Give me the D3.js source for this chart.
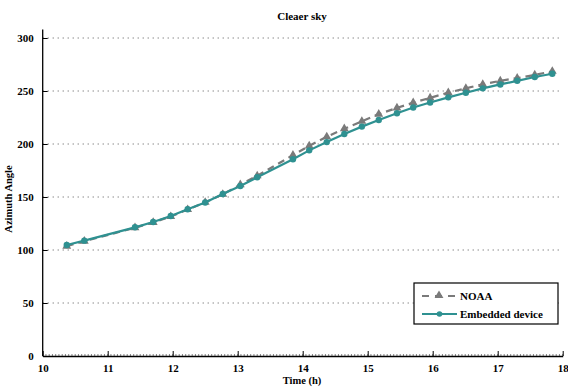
<!DOCTYPE html>
<html>
<head>
<meta charset="utf-8">
<script src="https://cdn.jsdelivr.net/npm/d3@7"></script>
<style>
  body { margin: 0; background: #fff; }
  svg { display: block; font-family: "Liberation Serif", "Times New Roman", serif; }
</style>
</head>
<body>
<svg id="chart" width="568" height="388"></svg>
<script>
// Sampling times (hours) of the solar azimuth measurements
const times = [10.37, 10.64, 11.42, 11.70, 11.97, 12.23, 12.50, 12.77, 13.04, 13.30,
               13.85, 14.10, 14.37, 14.64, 14.91, 15.17, 15.45, 15.70, 15.96, 16.24,
               16.51, 16.77, 17.04, 17.30, 17.57, 17.84];
// Reference azimuth from the NOAA calculator (degrees)
const noaa = [103.6, 108.3, 121.0, 126.0, 131.6, 138.2, 145.0, 152.6, 161.6, 170.0,
              189.4, 198.2, 206.8, 214.4, 221.4, 228.2, 234.0, 239.0, 243.5, 248.5,
              252.5, 256.3, 259.6, 262.2, 265.2, 268.6];
// Azimuth computed by the embedded device (degrees)
const device = [104.7, 108.8, 121.4, 126.4, 132.1, 138.4, 144.8, 152.8, 160.4, 168.6,
                185.6, 194.0, 201.8, 209.4, 216.4, 222.6, 229.0, 234.4, 239.2, 244.0,
                248.4, 252.5, 256.2, 259.6, 263.2, 266.3];
const xTicks = [10, 11, 12, 13, 14, 15, 16, 17, 18];
const yTicks = [0, 50, 100, 150, 200, 250, 300];
const seriesNames = ["NOAA", "Embedded device"];

const svg = d3.select("#chart");
const plotL = 42.7, plotR = 562.7, plotT = 38, plotB = 356;

const x = d3.scaleLinear().domain([10, 18]).range([plotL, plotR]);
const y = d3.scaleLinear().domain([0, 300]).range([plotB, plotT]);

const teal = "#2f9191";
const grey = "#7a7a7a";

// dotted horizontal grid
svg.append("g").selectAll("line").data(yTicks.filter(d => d > 0)).join("line")
  .attr("x1", plotL).attr("x2", plotR)
  .attr("y1", d => y(d)).attr("y2", d => y(d))
  .attr("stroke", "#555").attr("stroke-width", 1)
  .attr("stroke-dasharray", "1,4");

// x axis with minor ticks
const minor = d3.range(10, 18.0001, 0.05);
svg.append("g").selectAll("line").data(minor).join("line")
  .attr("x1", d => x(d)).attr("x2", d => x(d))
  .attr("y1", plotB).attr("y2", plotB - 2)
  .attr("stroke", "#333").attr("stroke-width", 0.6);

const xAxis = svg.append("g").attr("transform", `translate(0,${plotB})`)
  .call(d3.axisBottom(x).tickValues(xTicks).tickFormat(d3.format("d")).tickSizeInner(-5).tickSizeOuter(0).tickPadding(8));
xAxis.select(".domain").attr("stroke", "#000").attr("stroke-width", 1.3);
xAxis.selectAll(".tick line").attr("stroke", "#000");
xAxis.selectAll("text").attr("font-size", 11).attr("font-weight", "bold")
  .attr("font-family", "Liberation Serif, serif").attr("fill", "#000");

const yAxis = svg.append("g").attr("transform", `translate(${plotL},0)`)
  .call(d3.axisLeft(y).tickValues(yTicks).tickFormat(d3.format("d")).tickSizeInner(-5).tickSizeOuter(0).tickPadding(9));
yAxis.select(".domain").attr("stroke", "#000").attr("stroke-width", 1.3)
  .attr("d", `M0,${plotB}V${y(308)}`);
yAxis.selectAll(".tick line").attr("stroke", "#000");
yAxis.selectAll("text").attr("font-size", 11).attr("font-weight", "bold")
  .attr("font-family", "Liberation Serif, serif").attr("fill", "#000");

// axis titles and chart title
svg.append("text").attr("x", 302).attr("y", 20).attr("text-anchor", "middle")
  .attr("font-size", 11).attr("font-weight", "bold").text("Cleaer sky");
svg.append("text").attr("x", 302).attr("y", 384).attr("text-anchor", "middle")
  .attr("font-size", 10.5).attr("font-weight", "bold").text("Time (h)");
svg.append("text").attr("transform", `translate(12,${(plotT + plotB) / 2 + 2}) rotate(-90)`)
  .attr("text-anchor", "middle").attr("font-size", 10.5).attr("font-weight", "bold")
  .text("Azimuth Angle");

const line = d3.line().x(d => x(d[0])).y(d => y(d[1]));
const noaaPts = times.map((t, i) => [t, noaa[i]]);
const devPts = times.map((t, i) => [t, device[i]]);

const tri = d3.symbol().type(d3.symbolTriangle).size(34);

// NOAA series: dashed grey with triangles
svg.append("path").datum(noaaPts).attr("d", line)
  .attr("fill", "none").attr("stroke", grey).attr("stroke-width", 2.2)
  .attr("stroke-dasharray", "7,5");
svg.append("g").selectAll("path").data(noaaPts).join("path")
  .attr("d", tri).attr("transform", d => `translate(${x(d[0])},${y(d[1])})`)
  .attr("fill", grey);

// Embedded device series: solid teal with dots
svg.append("path").datum(devPts).attr("d", line)
  .attr("fill", "none").attr("stroke", teal).attr("stroke-width", 2.2);
svg.append("g").selectAll("circle").data(devPts).join("circle")
  .attr("cx", d => x(d[0])).attr("cy", d => y(d[1])).attr("r", 3.2)
  .attr("fill", teal);

// legend
const lg = svg.append("g").attr("transform", "translate(414,283)");
lg.append("rect").attr("width", 144).attr("height", 41)
  .attr("fill", "#fff").attr("stroke", "#000").attr("stroke-width", 1.2);
lg.append("line").attr("x1", 8).attr("x2", 42).attr("y1", 13).attr("y2", 13)
  .attr("stroke", grey).attr("stroke-width", 2.2).attr("stroke-dasharray", "7,6");
lg.append("path").attr("d", tri).attr("transform", "translate(25,12.5)").attr("fill", grey);
lg.append("line").attr("x1", 8).attr("x2", 43).attr("y1", 31).attr("y2", 31)
  .attr("stroke", teal).attr("stroke-width", 2.2);
lg.append("circle").attr("cx", 25.5).attr("cy", 31).attr("r", 2.8).attr("fill", teal);
lg.selectAll("text.lbl").data(seriesNames).join("text").attr("class", "lbl")
  .attr("x", 46).attr("y", (d, i) => 17 + i * 18)
  .attr("font-size", 11).attr("font-weight", "bold").text(d => d);
</script>
</body>
</html>
